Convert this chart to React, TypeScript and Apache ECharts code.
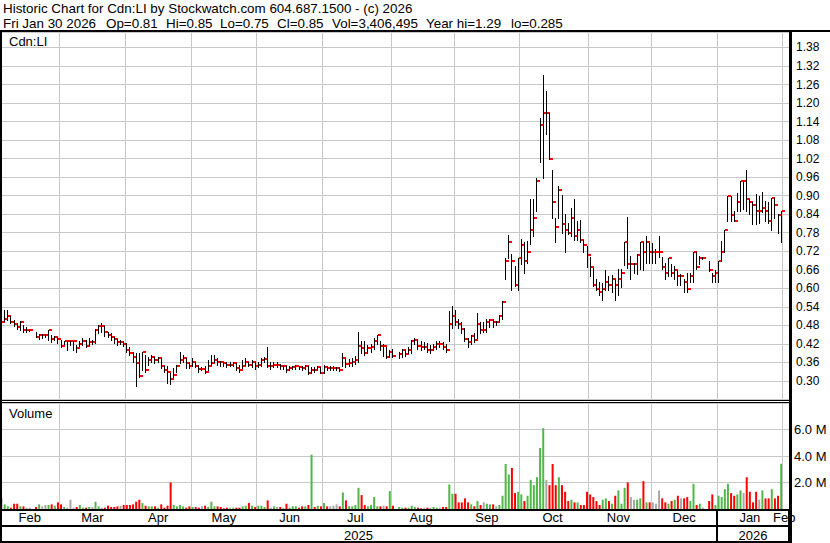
import React, { useEffect, useRef } from 'react';
import * as echarts from 'echarts';

// ---- categories: trading-day slots per month (Feb 2025 .. Feb 2026) ----
const monthLabels = ['Feb', 'Mar', 'Apr', 'May', 'Jun', 'Jul', 'Aug', 'Sep', 'Oct', 'Nov', 'Dec', 'Jan', 'Feb'];
const monthDays = [19, 21, 21, 21, 21, 22, 20, 21, 22, 20, 21, 21, 2];
const yearLabels = ['2025', '2026'];
const yearMonthCounts = [11, 2];

// ---- price data (one entry per trading day, null = no trade) ----
const high = [
  0.50, 0.531, 0.529, 0.512, 0.496, 0.488, 0.493, 0.482, 0.475, 0.466, null, 0.46, 0.452, 0.452, 0.452, 0.466, 0.448, 0.446, 0.444,
  0.433, 0.43, 0.431, 0.43, 0.428, 0.417, 0.428, 0.439, 0.433, 0.439, 0.433, 0.468, 0.482, 0.488, 0.477, 0.46, 0.455, 0.444, 0.436, 0.433, 0.428,
  0.423, 0.41, 0.395, 0.392, 0.39, 0.395, 0.385, 0.379, 0.385, 0.379, 0.379, 0.374, 0.35, 0.347, 0.325, 0.341, 0.352, 0.394, 0.385, 0.374, 0.363,
  0.374, 0.36, 0.352, 0.345, 0.347, 0.368, 0.385, 0.385, 0.374, 0.366, 0.363, 0.363, 0.36, 0.363, 0.357, 0.352, 0.368, 0.374, 0.363, 0.368, 0.363,
  0.36, 0.375, 0.378, 0.41, 0.36, 0.36, 0.36, 0.355, 0.352, 0.35, 0.35, 0.35, 0.352, 0.35, 0.35, 0.352, 0.35, 0.345, 0.345, 0.35, 0.345,
  0.352, 0.35, 0.35, 0.347, 0.345, 0.345, 0.392, 0.37, 0.372, 0.375, 0.38, 0.46, 0.43, 0.43, 0.415, 0.42, 0.44, 0.45, 0.43, 0.42, 0.41, 0.40,
  0.405, null, 0.395, 0.405, 0.40, 0.41, 0.433, 0.44, 0.435, 0.428, 0.425, 0.423, 0.415, 0.42, 0.43, 0.428, 0.425, 0.42, 0.526, 0.542,
  0.531, 0.50, 0.49, 0.47, 0.44, 0.45, 0.455, 0.52, 0.49, 0.49, 0.50, 0.50, 0.50, 0.495, 0.515, 0.56, 0.699, 0.772, 0.71, 0.672, 0.699,
  0.76, 0.75, 0.752, 0.89, 0.89, 0.958, 1.151, 1.29, 1.24, 1.169, 0.982, 0.829, 0.931, 0.902, 0.842, 0.812, 0.861, 0.89, 0.818, 0.82, 0.758, 0.737,
  0.702, 0.666, 0.629, 0.62, 0.616, 0.659, 0.64, 0.642, 0.629, 0.661, 0.661, 0.75, 0.83, 0.705, 0.683, 0.71, 0.75, 0.75, 0.768, 0.748,
  0.748, 0.728, 0.768, 0.70, 0.683, 0.698, 0.678, 0.672, 0.66, 0.645, 0.629, 0.65, 0.65, 0.718, 0.718, 0.705, 0.70, null, 0.69, 0.65, 0.66,
  0.689, 0.754, 0.79, 0.90, 0.90, 0.851, 0.91, 0.949, 0.949, 0.984, 0.889, 0.878, 0.906, 0.90, 0.911, 0.884, 0.878, 0.892, 0.892, 0.84, 0.85,
];
const low = [
  0.457, 0.493, 0.499, 0.488, 0.477, 0.468, 0.466, 0.46, 0.457, 0.461, null, 0.441, 0.436, 0.439, 0.444, 0.433, 0.426, 0.433, 0.423,
  0.41, 0.42, 0.40, 0.418, 0.40, 0.395, 0.412, 0.417, 0.41, 0.417, 0.42, 0.422, 0.455, 0.457, 0.446, 0.441, 0.433, 0.423, 0.417, 0.42, 0.412,
  0.395, 0.385, 0.36, 0.285, 0.314, 0.336, 0.33, 0.352, 0.363, 0.357, 0.363, 0.341, 0.33, 0.292, 0.29, 0.312, 0.33, 0.357, 0.363, 0.341, 0.341,
  0.347, 0.345, 0.33, 0.335, 0.325, 0.336, 0.352, 0.363, 0.352, 0.347, 0.349, 0.345, 0.347, 0.349, 0.336, 0.33, 0.341, 0.352, 0.347, 0.345, 0.338,
  0.345, 0.35, 0.36, 0.345, 0.34, 0.345, 0.345, 0.34, 0.34, 0.33, 0.335, 0.338, 0.34, 0.338, 0.335, 0.338, 0.322, 0.325, 0.328, 0.335, 0.325,
  0.327, 0.335, 0.336, 0.336, 0.336, 0.333, 0.347, 0.345, 0.347, 0.35, 0.355, 0.363, 0.39, 0.385, 0.39, 0.395, 0.405, 0.42, 0.40, 0.38, 0.375, 0.378,
  0.378, null, 0.375, 0.378, 0.382, 0.39, 0.39, 0.42, 0.405, 0.40, 0.405, 0.395, 0.39, 0.40, 0.405, 0.41, 0.405, 0.395, 0.428, 0.47,
  0.48, 0.47, 0.455, 0.43, 0.41, 0.42, 0.425, 0.44, 0.455, 0.46, 0.46, 0.475, 0.475, 0.48, 0.49, 0.50, 0.629, 0.699, 0.596, 0.607, 0.596,
  0.68, 0.65, 0.683, 0.742, 0.771, 0.85, 1.009, 0.958, 1.10, 1.018, 0.828, 0.75, 0.829, 0.78, 0.717, 0.775, 0.769, 0.758, 0.758, 0.75, 0.717, 0.67,
  0.64, 0.607, 0.596, 0.58, 0.562, 0.596, 0.596, 0.588, 0.562, 0.58, 0.605, 0.675, 0.667, 0.63, 0.65, 0.645, 0.662, 0.66, 0.683, 0.683,
  0.683, 0.683, 0.70, 0.662, 0.63, 0.64, 0.64, 0.629, 0.61, 0.61, 0.588, 0.588, 0.62, 0.62, 0.662, 0.678, 0.695, null, 0.656, 0.62, 0.62,
  0.62, 0.689, 0.718, 0.819, 0.819, 0.819, 0.85, 0.851, 0.856, 0.851, 0.84, 0.808, 0.808, 0.813, 0.846, 0.819, 0.813, 0.79, 0.829, 0.78, 0.75,
];
const close = [
  0.491, 0.502, 0.509, 0.491, 0.485, 0.474, 0.491, 0.464, 0.464, 0.464, null, 0.444, 0.448, 0.448, 0.448, 0.464, 0.437, 0.443, 0.437,
  0.412, 0.428, 0.428, 0.428, 0.428, 0.408, 0.42, 0.428, 0.412, 0.425, 0.425, 0.464, 0.477, 0.477, 0.46, 0.448, 0.444, 0.436, 0.426, 0.426, 0.42,
  0.399, 0.392, 0.379, 0.357, 0.317, 0.393, 0.336, 0.368, 0.379, 0.368, 0.374, 0.347, 0.335, 0.328, 0.308, 0.32, 0.347, 0.368, 0.374, 0.357, 0.349,
  0.363, 0.349, 0.34, 0.34, 0.328, 0.347, 0.357, 0.368, 0.363, 0.36, 0.357, 0.352, 0.352, 0.357, 0.343, 0.336, 0.347, 0.363, 0.352, 0.36, 0.347,
  0.352, 0.368, 0.37, 0.347, 0.347, 0.352, 0.352, 0.347, 0.347, 0.336, 0.341, 0.344, 0.347, 0.344, 0.341, 0.347, 0.327, 0.336, 0.334, 0.344, 0.327,
  0.344, 0.341, 0.341, 0.341, 0.341, 0.336, 0.374, 0.355, 0.357, 0.363, 0.368, 0.412, 0.406, 0.39, 0.406, 0.41, 0.428, 0.448, 0.412, 0.412, 0.379, 0.395,
  0.382, null, 0.388, 0.40, 0.388, 0.399, 0.428, 0.433, 0.412, 0.41, 0.41, 0.399, 0.399, 0.41, 0.419, 0.419, 0.41, 0.40, 0.483, 0.509,
  0.491, 0.484, 0.468, 0.436, 0.425, 0.446, 0.433, 0.484, 0.466, 0.466, 0.491, 0.496, 0.491, 0.491, 0.509, 0.557, 0.688, 0.75, 0.688, 0.61, 0.698,
  0.74, 0.688, 0.717, 0.789, 0.828, 0.948, 1.129, 1.168, 1.168, 1.018, 0.879, 0.798, 0.918, 0.808, 0.789, 0.779, 0.828, 0.769, 0.789, 0.758, 0.74, 0.708,
  0.669, 0.61, 0.597, 0.588, 0.597, 0.62, 0.61, 0.63, 0.61, 0.63, 0.649, 0.75, 0.678, 0.678, 0.678, 0.708, 0.75, 0.718, 0.75, 0.718,
  0.718, 0.718, 0.718, 0.669, 0.65, 0.698, 0.65, 0.659, 0.64, 0.64, 0.62, 0.598, 0.64, 0.718, 0.669, 0.698, 0.698, null, 0.659, 0.64, 0.65,
  0.689, 0.718, 0.79, 0.90, 0.837, 0.819, 0.88, 0.949, 0.949, 0.889, 0.88, 0.871, 0.851, 0.851, 0.861, 0.851, 0.819, 0.892, 0.871, 0.837, 0.85,
];
// ---- volume, millions of shares ----
const volume = [
  0.8, 0.35, 0.2, 0.1, 0.4, 0.4, 0.2, 0.2, 0.1, 0.1, 0, 0.15, 0.35, 0.2, 0.3, 0.3, 0.35, 0.25, 0.5,
  0.35, 0.15, 0.1, 0.7, 0.1, 0.15, 0.3, 0.1, 0.1, 0.15, 0.15, 0.55, 0.2, 0.1, 0.1, 0.25, 0.15, 0.15, 0.2, 0.25, 0.3,
  0.3, 0.3, 0.35, 0.55, 0.7, 0.45, 0.25, 0.2, 0.2, 0.2, 0.1, 0.35, 0.1, 0.25, 2.0, 0.3, 0.2, 0.3, 0.2, 0.1, 0.2,
  0.15, 0.15, 0.1, 0.2, 0.25, 0.15, 0.55, 0.2, 0.2, 0.15, 0.05, 0.1, 0.1, 0.1, 0.1, 0.1, 0.2, 0.25, 0.45, 0.25, 0.15,
  0.25, 0.25, 0.15, 0.65, 0.1, 0.2, 0.15, 0.15, 0.1, 0.4, 0.1, 0.2, 0.2, 0.1, 0.2, 0.2, 0.3, 4.1, 0.15, 0.25, 0.2,
  0.45, 0.2, 0.2, 0.25, 0.35, 0.2, 1.25, 0.65, 0.2, 0.2, 0.3, 1.6, 1.05, 0.3, 0.2, 0.3, 0.9, 0.2, 0.2, 0.25, 0.2, 1.35,
  0.25, 0, 0.15, 0.1, 0.1, 0.1, 0.25, 0.15, 0.1, 0.05, 0.1, 0.1, 0.1, 0.15, 0.1, 0.1, 0.15, 0.15, 1.85, 1.15,
  1.15, 0.5, 0.5, 0.8, 0.5, 0.35, 0.2, 0.6, 0.3, 0.5, 0.4, 0.35, 0.35, 0.2, 0.3, 1.0, 3.4, 2.6, 3.1, 1.2, 1.3,
  1.1, 0.6, 1.0, 2.2, 1.8, 2.4, 4.6, 6.1, 2.2, 1.8, 3.4, 1.8, 2.4, 1.8, 1.3, 0.6, 0.7, 0.5, 0.5, 0.3, 0.3, 1.3,
  1.1, 0.9, 0.6, 0.3, 0.7, 0.8, 0.6, 0.4, 1.0, 1.4, 0.4, 1.6, 2.0, 0.9, 0.7, 0.7, 0.8, 2.1, 0.5, 0.5,
  0.5, 0.4, 1.4, 0.8, 0.5, 0.4, 0.6, 0.7, 1.0, 0.8, 0.8, 0.9, 0.6, 1.9, 0.3, 0.4, 0.1, 0, 0.6, 1.1, 0.3,
  1.0, 0.9, 1.5, 1.9, 1.2, 1.0, 1.1, 1.4, 1.2, 2.4, 1.3, 0.5, 1.3, 0.7, 1.4, 0.8, 0.8, 1.5, 0.8, 1.0, 3.41,
];

const headerTitle = 'Historic Chart for Cdn:LI by Stockwatch.com 604.687.1500 - (c) 2026';
const headerFields = ['Fri Jan 30 2026', 'Op=0.81', 'Hi=0.85', 'Lo=0.75', 'Cl=0.85', 'Vol=3,406,495', 'Year hi=1.29', 'lo=0.285'];
const headerFieldX = [3, 106, 166, 220, 277, 332, 426, 511];
const priceTitle = 'Cdn:LI';
const volumeTitle = 'Volume';

const GREEN = '#50b848';
const RED = '#ff0000';
const GRAY = '#a8a8a8';
const GRID = '#c8c8c8';
const FONT = '"Liberation Sans", Arial, sans-serif';

function buildOption() {
  const categories: string[] = [];
  const monthStarts = new Set<number>();
  const monthMid = new Map<number, string>();
  let idx = 0;
  monthLabels.forEach((m, k) => {
    if (idx > 0) monthStarts.add(idx);
    const n = monthDays[k];
    monthMid.set(Math.floor(idx + (n - 1) / 2), m);
    for (let d = 0; d < n; d++) categories.push(`${m}-${k}-${d}`);
    idx += n;
  });
  const yearMid = new Map<number, string>();
  const yearStarts = new Set<number>();
  let mStart = 0;
  let dayStart = 0;
  yearLabels.forEach((y, k) => {
    let count = 0;
    for (let j = mStart; j < mStart + yearMonthCounts[k]; j++) count += monthDays[j];
    yearStarts.add(dayStart);
    yearMid.set(Math.floor(dayStart + (count - 1) / 2), y);
    dayStart += count;
    mStart += yearMonthCounts[k];
  });

  const ohlc: number[][] = [];
  close.forEach((c, i) => {
    if (c != null) ohlc.push([i, high[i] as number, low[i] as number, c]);
  });

  const volData = volume.map((v, i) => {
    let color = GRAY;
    if (close[i] != null) {
      let j = i - 1;
      while (j >= 0 && close[j] == null) j--;
      if (j >= 0) {
        const a = close[i] as number;
        const b = close[j] as number;
        color = a > b ? GREEN : a < b ? RED : GRAY;
      }
    }
    return { value: v, itemStyle: { color } };
  });

  const splitLine = {
    show: true,
    interval: (i: number) => monthStarts.has(i),
    lineStyle: { color: GRID, width: 1 },
  };

  const W = 789;
  const frame = [
    [0, 30, 830, 2],
    [0, 30, 2, 513],
    [789, 30, 3, 513],
    [0, 400, W, 1],
    [0, 402, W, 1],
    [0, 509, W, 2],
    [0, 525, W, 2],
    [0, 541, W, 2],
  ].map(([x, y, w, h]) => ({
    type: 'rect',
    shape: { x, y, width: w, height: h },
    style: { fill: '#000' },
    z: 100,
    silent: true,
  }));

  const texts: any[] = [
    { text: headerTitle, x: 3, y: 8.5, size: 13.4 },
    ...headerFields.map((t, k) => ({ text: t, x: headerFieldX[k], y: 23.5, size: 13.4 })),
    { text: priceTitle, x: 9, y: 41.5, size: 13 },
    { text: volumeTitle, x: 9, y: 413, size: 13 },
  ].map((t) => ({
    type: 'text',
    x: t.x,
    y: t.y,
    z: 101,
    silent: true,
    style: {
      text: t.text,
      fill: '#000',
      font: `${t.size}px ${FONT}`,
      align: 'left',
      verticalAlign: 'middle',
      textAlign: 'left',
      textVerticalAlign: 'middle',
    },
  }));

  return {
    animation: false,
    backgroundColor: '#ffffff',
    textStyle: { fontFamily: FONT },
    grid: [
      { left: 0, width: W, top: 32, height: 367.5 },
      { left: 0, width: W, top: 403, height: 106 },
    ],
    xAxis: [
      {
        type: 'category',
        gridIndex: 0,
        data: categories,
        boundaryGap: true,
        axisLine: { show: false },
        axisTick: { show: false },
        axisLabel: { show: false },
        splitLine,
      },
      {
        type: 'category',
        gridIndex: 1,
        data: categories,
        boundaryGap: true,
        position: 'bottom',
        axisLine: { show: false },
        axisTick: {
          show: true,
          interval: (i: number) => yearStarts.has(i),
          length: 32,
          lineStyle: { color: '#000', width: 2 },
        },
        axisLabel: {
          show: true,
          interval: (i: number) => monthMid.has(i),
          formatter: (_v: string, i: number) => monthMid.get(i) || '',
          color: '#000',
          fontSize: 13,
          fontFamily: FONT,
          margin: 2,
        },
        splitLine,
      },
      {
        type: 'category',
        gridIndex: 1,
        data: categories,
        boundaryGap: true,
        position: 'bottom',
        offset: 17,
        axisLine: { show: false },
        axisTick: { show: false },
        axisLabel: {
          show: true,
          interval: (i: number) => yearMid.has(i),
          formatter: (_v: string, i: number) => yearMid.get(i) || '',
          color: '#000',
          fontSize: 13,
          fontFamily: FONT,
          margin: 2.5,
        },
        splitLine: { show: false },
      },
    ],
    yAxis: [
      {
        type: 'value',
        gridIndex: 0,
        position: 'right',
        min: 0.24,
        max: 1.43,
        interval: 0.06,
        axisLine: { show: false },
        axisTick: { show: false },
        axisLabel: {
          formatter: (v: number) => v.toFixed(2),
          color: '#000',
          fontSize: 12,
          fontFamily: FONT,
          margin: 7,
          showMinLabel: false,
          showMaxLabel: false,
        },
        splitLine: { show: true, lineStyle: { color: GRID, width: 1 } },
      },
      {
        type: 'value',
        gridIndex: 1,
        position: 'right',
        min: 0,
        max: 8,
        interval: 2,
        axisLine: { show: false },
        axisTick: { show: false },
        axisLabel: {
          formatter: (v: number) => `${v.toFixed(1)} M`,
          color: '#000',
          fontSize: 13,
          fontFamily: FONT,
          margin: 5,
          showMinLabel: false,
          showMaxLabel: false,
        },
        splitLine: { show: true, lineStyle: { color: GRID, width: 1 } },
      },
    ],
    series: [
      {
        type: 'custom',
        xAxisIndex: 0,
        yAxisIndex: 0,
        data: ohlc,
        encode: { x: 0, y: [1, 2, 3] },
        clip: true,
        renderItem: (_params: any, api: any) => {
          const i = api.value(0);
          const pHi = api.coord([i, api.value(1)]);
          const pLo = api.coord([i, api.value(2)]);
          const pCl = api.coord([i, api.value(3)]);
          const x = Math.floor(pHi[0]) + 0.5;
          const y1 = Math.round(pHi[1]);
          const y2 = Math.round(pLo[1]) + 1;
          return {
            type: 'group',
            children: [
              {
                type: 'line',
                shape: { x1: x, y1, x2: x, y2 },
                style: { stroke: '#000', lineWidth: 1 },
              },
              {
                type: 'rect',
                shape: { x: x + 0.5, y: Math.round(pCl[1]) - 1, width: 3, height: 2 },
                style: { fill: RED },
              },
            ],
          };
        },
      },
      {
        type: 'bar',
        xAxisIndex: 1,
        yAxisIndex: 1,
        data: volData,
        barWidth: 2,
      },
    ],
    graphic: { elements: [...frame, ...texts] },
  };
}

export default function App() {
  const ref = useRef<HTMLDivElement>(null);
  useEffect(() => {
    if (!ref.current) return;
    const chart = echarts.init(ref.current, undefined, { renderer: 'svg' });
    chart.setOption(buildOption() as any);
    return () => chart.dispose();
  }, []);
  return (
    <div
      ref={ref}
      style={{ position: 'fixed', left: 0, top: 0, width: 830, height: 543, background: '#fff' }}
    />
  );
}
